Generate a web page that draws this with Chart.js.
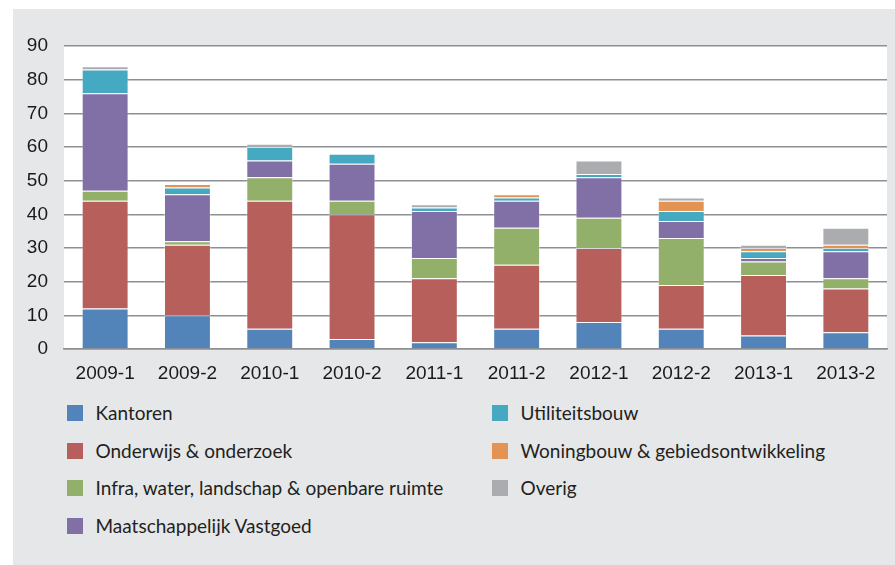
<!DOCTYPE html>
<html>
<head>
<meta charset="utf-8">
<script src="https://cdn.jsdelivr.net/npm/chart.js@4"></script>
<style>
    body { margin: 0; background: #ffffff; width: 895px; height: 565px; overflow: hidden; }
    #panel { position: absolute; left: 13px; top: 9px; width: 882px; height: 556px; background: #e6e7e9; }
    #chart-wrap { position: absolute; left: 0; top: 0; width: 882px; height: 390px; }
    #legend { position: absolute; left: 0; top: 0; font-family: 'Lato', sans-serif; font-size: 19px; color: #231f20; }
    .item { position: absolute; height: 20px; line-height: 20px; white-space: nowrap; }
    .box { position: absolute; left: 0; top: 2px; width: 16px; height: 16px; }
    .label { position: absolute; left: 28.5px; top: 0; }
</style>
</head>
<body>
<div id="panel">
    <div id="chart-wrap"><canvas id="bouw-chart"></canvas></div>
    <div id="legend"></div>
</div>
<script>
/**
 *  Chart data
 */
var periods = ['2009-1', '2009-2', '2010-1', '2010-2', '2011-1', '2011-2', '2012-1', '2012-2', '2013-1', '2013-2'];
var kantoren        = [12, 10,  6,  3,  2,  6,  8,  6,  4,  5];
var onderwijs       = [32, 21, 38, 37, 19, 19, 22, 13, 18, 13];
var infra           = [ 3,  1,  7,  4,  6, 11,  9, 14,  4,  3];
var maatschappelijk = [29, 14,  5, 11, 14,  8, 12,  5,  1,  8];
var utiliteit       = [ 7,  2,  4,  3,  1,  1,  1,  3,  2,  1];
var woningbouw      = [ 0,  1,  0,  0,  0,  1,  0,  3,  1,  1];
var overig          = [ 1,  0,  1,  0,  1,  0,  4,  1,  1,  5];
var yTicks = { min: 0, max: 90, step: 10 };

var series = [
    { label: 'Kantoren', data: kantoren, color: '#5283b9' },
    { label: 'Onderwijs & onderzoek', data: onderwijs, color: '#b75f5b' },
    { label: 'Infra, water, landschap & openbare ruimte', data: infra, color: '#92b06a' },
    { label: 'Maatschappelijk Vastgoed', data: maatschappelijk, color: '#8170a6' },
    { label: 'Utiliteitsbouw', data: utiliteit, color: '#45a9c1' },
    { label: 'Woningbouw & gebiedsontwikkeling', data: woningbouw, color: '#e39453' },
    { label: 'Overig', data: overig, color: '#aaacaf' }
];

/**
 *  White plot area behind the bars
 */
var plotBackground = {
    id: 'plotBackground',
    beforeDraw: function (chart) {
        var a = chart.chartArea;
        var c = chart.ctx;
        c.save();
        c.fillStyle = '#ffffff';
        c.fillRect(a.left, a.top, a.right - a.left, a.bottom - a.top);
        c.restore();
    }
};

var ctx = document.getElementById('bouw-chart').getContext('2d');
var bouwChart = new Chart(ctx, {
    type: 'bar',
    data: {
        labels: periods,
        datasets: series.map(function (s) {
            return {
                label: s.label,
                data: s.data,
                backgroundColor: s.color,
                borderColor: 'rgba(255,255,255,0.35)',
                borderWidth: function (c) { return c.raw ? 1 : 0; },
                barPercentage: 0.57,
                categoryPercentage: 1
            };
        })
    },
    plugins: [plotBackground],
    options: {
        responsive: true,
        maintainAspectRatio: false,
        animation: false,
        layout: { padding: { top: 37, right: 8, left: 0, bottom: 0 } },
        plugins: {
            legend: { display: false },
            tooltip: { enabled: false }
        },
        scales: {
            x: {
                stacked: true,
                grid: { display: false, drawTicks: false },
                border: { color: '#8e8f93', width: 1.5 },
                ticks: {
                    padding: 13,
                    color: '#1a1a1a',
                    font: { family: 'Liberation Sans', size: 19 },
                    maxRotation: 0
                },
                afterFit: function (scale) { scale.height = 50; }
            },
            y: {
                stacked: true,
                min: yTicks.min,
                max: yTicks.max,
                grid: { color: '#8e8f93', lineWidth: 1.5, drawTicks: false },
                border: { display: false },
                ticks: {
                    stepSize: yTicks.step,
                    padding: 16,
                    color: '#1a1a1a',
                    font: { family: 'Liberation Sans', size: 19 }
                },
                afterFit: function (scale) { scale.width = 51; }
            }
        }
    }
});

/**
 *  Legend in two columns, filled column by column
 */
var legend = document.getElementById('legend');
var rowsPerColumn = 4;
series.forEach(function (s, i) {
    var col = Math.floor(i / rowsPerColumn);
    var row = i % rowsPerColumn;
    var item = document.createElement('div');
    item.className = 'item';
    item.style.left = (54 + col * 425) + 'px';
    item.style.top = (394 + row * 37.7) + 'px';
    item.innerHTML = '<span class="box" style="background:' + s.color + '"></span><span class="label"></span>';
    item.querySelector('.label').textContent = s.label;
    legend.appendChild(item);
});
</script>
</body>
</html>
